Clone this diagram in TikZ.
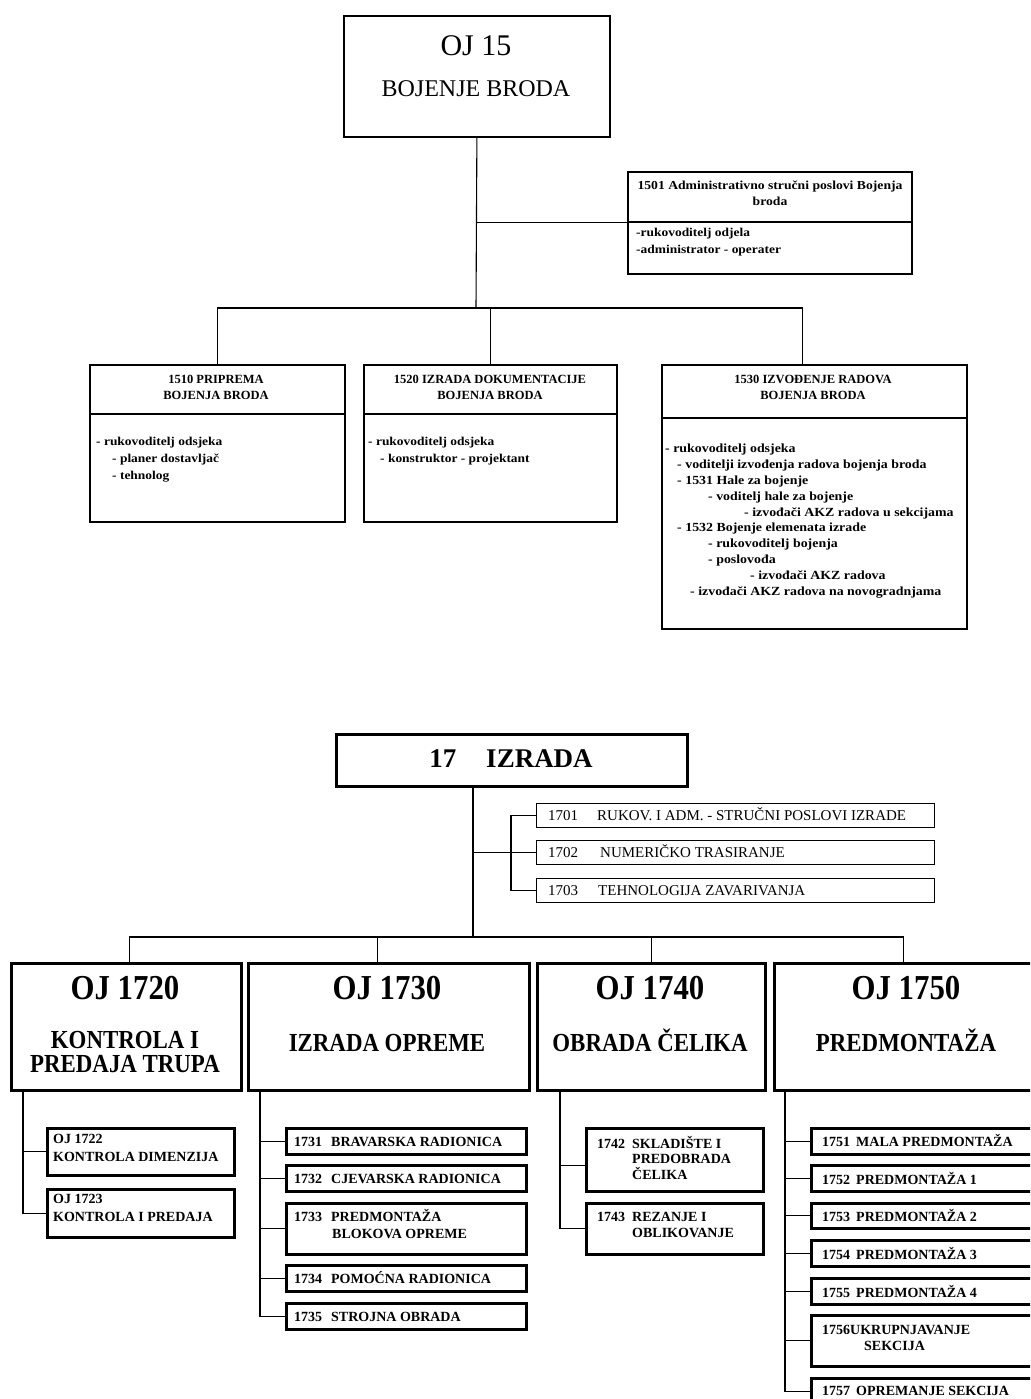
\documentclass[tikz,border=0pt]{standalone}
\usepackage{fontspec}
\setmainfont{Liberation Serif}
\newfontfamily\wideserif[FakeStretch=1.12]{Liberation Serif}
\newfontfamily\narrowserif[FakeStretch=0.88]{Liberation Serif}
\newcommand{\fsz}[2]{\fontsize{#1}{#2}\selectfont}
\begin{document}
\begin{tikzpicture}[x=1pt,y=-1pt,
  boxa/.style={draw, line width=1.8pt, inner sep=0pt, anchor=north west},
  boxb/.style={draw, line width=2.6pt, inner sep=0pt, anchor=north west},
  boxc/.style={draw, line width=1.4pt, inner sep=0pt, anchor=north west},
  wire/.style={line width=1.1pt},
  rule/.style={line width=1.8pt},
  ttl/.style={font=\bfseries\fsz{12.5}{16}, align=center, inner sep=0pt},
  lst/.style={font=\wideserif\bfseries\fsz{12}{17}, align=left, anchor=north west, inner sep=0pt},
  itm/.style={font=\fsz{15}{18}, anchor=base west, inner sep=0pt},
  sub/.style={font=\bfseries\fsz{14}{16}, anchor=base west, inner sep=0pt},
  ojn/.style={font=\narrowserif\bfseries\fsz{35}{35}, anchor=base, inner sep=0pt},
  ojt/.style={font=\narrowserif\bfseries\fsz{26}{23}, anchor=base, inner sep=0pt},
]
\clip (0,0) rectangle (1030,1399);
\fill[white] (0,0) rectangle (1030,1399);

% ---------------- OJ 15 : ship painting ----------------
\node[boxa, minimum width=266pt, minimum height=121pt] (oj15) at (343,15) {};
\node[font=\fsz{30}{30}, anchor=base, inner sep=0pt] (oj15a) at (476,56) {OJ 15};
\node[font=\fsz{24}{24}, anchor=base, inner sep=0pt] (oj15b) at (476,97) {BOJENJE BRODA};

% 1501
\node[boxa, minimum width=284pt, minimum height=102pt] (b1501) at (627,171) {};
\draw[rule] (627,222) -- (911,222);
\node[ttl, font=\wideserif\bfseries\fsz{12.2}{16}] (t1501) at (770,193) {1501 Administrativno stručni poslovi Bojenja\\broda};
\node[lst] (l1501) at (636,228) {-rukovoditelj odjela\\-administrator - operater};

% 1510
\node[boxa, minimum width=255pt, minimum height=157pt] (b1510) at (89,364) {};
\draw[rule] (89,414) -- (344,414);
\node[ttl] (t1510) at (216,387) {1510 PRIPREMA\\BOJENJA BRODA};
\node[lst] (l1510) at (96,437) {- rukovoditelj odsjeka\\\hspace*{16pt}- planer dostavljač\\\hspace*{16pt}- tehnolog};

% 1520
\node[boxa, minimum width=253pt, minimum height=157pt] (b1520) at (363,364) {};
\draw[rule] (363,414) -- (616,414);
\node[ttl] (t1520) at (490,387) {1520 IZRADA DOKUMENTACIJE\\BOJENJA BRODA};
\node[lst] (l1520) at (368,437) {- rukovoditelj odsjeka\\\hspace*{12pt}- konstruktor - projektant};

% 1530
\node[boxa, minimum width=305pt, minimum height=264pt] (b1530) at (661,364) {};
\draw[rule] (661,418) -- (966,418);
\node[ttl] (t1530) at (813,387) {1530 IZVOĐENJE RADOVA\\BOJENJA BRODA};
\node[lst, font=\wideserif\bfseries\fsz{12.4}{15.8}] (l1530) at (665,444) {- rukovoditelj odsjeka\\
\hspace*{12pt}- voditelji izvođenja radova bojenja broda\\
\hspace*{12pt}- 1531 Hale za bojenje\\
\hspace*{43pt}- voditelj hale za bojenje\\
\hspace*{79pt}- izvođači AKZ radova u sekcijama\\
\hspace*{12pt}- 1532 Bojenje elemenata izrade\\
\hspace*{43pt}- rukovoditelj bojenja\\
\hspace*{43pt}- poslovođa\\
\hspace*{85pt}- izvođači AKZ radova\\
\hspace*{25pt}- izvođači AKZ radova na novogradnjama};

% connectors of OJ 15
\coordinate (hub15) at (476,308);
\draw[wire] (oj15.south) -- (hub15);
\draw[wire] (oj15.south |- b1501.west) -- (b1501.west);
\draw[wire] (b1510.north) |- (hub15) -| ([xshift=-12pt]b1530.north);
\draw[wire] (b1520.north) -- (b1520.north |- hub15);

% ---------------- 17 : production ----------------
\node[boxb, minimum width=351pt, minimum height=52pt] (iz) at (335,733) {};
\node[font=\bfseries\fsz{27}{27}, anchor=base, inner sep=0pt] (izt) at (511,767) {17\hspace{30pt}IZRADA};

\node[boxc, minimum width=398pt, minimum height=24pt] (b1701) at (536,803) {};
\node[boxc, minimum width=398pt, minimum height=24pt] (b1702) at (536,840) {};
\node[boxc, minimum width=398pt, minimum height=24pt] (b1703) at (536,878) {};
\node[itm] (n1701a) at (548,820) {1701};
\node[itm] (n1701b) at (597,820) {RUKOV. I ADM. - STRUČNI POSLOVI IZRADE};
\node[itm] (n1702a) at (548,857) {1702};
\node[itm] (n1702b) at (600,857) {NUMERIČKO TRASIRANJE};
\node[itm] (n1703a) at (548,895) {1703};
\node[itm] (n1703b) at (598,895) {TEHNOLOGIJA ZAVARIVANJA};

\coordinate (hub17) at (473,937);
\coordinate (k17) at (511,852);
\draw[wire] (iz.south -| hub17) -- (hub17);
\draw[wire] (b1701.west) -| (k17) |- (b1703.west);
\draw[wire] (hub17 |- b1702.west) -- (b1702.west);

% OJ boxes
\node[boxb, minimum width=230pt, minimum height=127pt] (oj1720) at (10,962) {};
\node[boxb, minimum width=281pt, minimum height=127pt] (oj1730) at (247,962) {};
\node[boxb, minimum width=228pt, minimum height=127pt] (oj1740) at (536,962) {};
\node[boxb, minimum width=267pt, minimum height=127pt] (oj1750) at (773,962) {};

\node[ojn] (h1720) at (125,999) {OJ 1720};
\node[ojn] (h1730) at (387,999) {OJ 1730};
\node[ojn] (h1740) at (650,999) {OJ 1740};
\node[ojn] (h1750) at (906,999) {OJ 1750};
\node[ojt] (d1720a) at (125,1048) {KONTROLA I};
\node[ojt] (d1720b) at (125,1072) {PREDAJA TRUPA};
\node[ojt] (d1730) at (387,1051) {IZRADA OPREME};
\node[ojt] (d1740) at (650,1051) {OBRADA ČELIKA};
\node[ojt] (d1750) at (906,1051) {PREDMONTAŽA};

\draw[wire] ([xshift=3pt]oj1720.north) |- (hub17) -| ([xshift=-4pt]oj1750.north);
\draw[wire] ([xshift=-11pt]oj1730.north) -- ([xshift=-11pt]oj1730.north |- hub17);
\draw[wire] (oj1740.north) -- (oj1740.north |- hub17);

% OJ 1720 units
\node[boxb, minimum width=187pt, minimum height=47pt] (b1722) at (46,1127) {};
\node[boxb, minimum width=187pt, minimum height=48pt] (b1723) at (46,1188) {};
\node[sub] (n1722a) at (53,1143) {OJ 1722};
\node[sub] (n1722b) at (53,1161) {KONTROLA DIMENZIJA};
\node[sub] (n1723a) at (53,1203) {OJ 1723};
\node[sub] (n1723b) at (53,1221) {KONTROLA I PREDAJA};
\coordinate (s20) at (23,1089);
\draw[wire] (s20) |- (b1723.west);
\draw[wire] (s20 |- b1722.west) -- (b1722.west);

% OJ 1730 units
\node[boxb, minimum width=240pt, minimum height=26pt] (b1731) at (285,1127) {};
\node[boxb, minimum width=240pt, minimum height=26pt] (b1732) at (285,1164) {};
\node[boxb, minimum width=240pt, minimum height=51pt] (b1733) at (285,1202) {};
\node[boxb, minimum width=240pt, minimum height=26pt] (b1734) at (285,1264) {};
\node[boxb, minimum width=240pt, minimum height=26pt] (b1735) at (285,1302) {};
\node[sub] (n1731) at (294,1146) {1731\hspace{9pt}BRAVARSKA RADIONICA};
\node[sub] (n1732) at (294,1183) {1732\hspace{9pt}CJEVARSKA RADIONICA};
\node[sub] (n1733a) at (294,1221) {1733\hspace{9pt}PREDMONTAŽA};
\node[sub] (n1733b) at (332,1238) {BLOKOVA OPREME};
\node[sub] (n1734) at (294,1283) {1734\hspace{9pt}POMOĆNA RADIONICA};
\node[sub] (n1735) at (294,1321) {1735\hspace{9pt}STROJNA OBRADA};
\coordinate (s30) at (260,1089);
\draw[wire] (s30) |- (b1735.west);
\foreach \b in {b1731,b1732,b1733,b1734} \draw[wire] (s30 |- \b.west) -- (\b.west);

% OJ 1740 units
\node[boxb, minimum width=177pt, minimum height=63pt] (b1742) at (585,1127) {};
\node[boxb, minimum width=177pt, minimum height=51pt] (b1743) at (585,1202) {};
\node[sub] (n1742a) at (597,1148) {1742};
\node[sub] (n1742b) at (632,1148) {SKLADIŠTE I};
\node[sub] (n1742c) at (632,1163) {PREDOBRADA};
\node[sub] (n1742d) at (632,1179) {ČELIKA};
\node[sub] (n1743a) at (597,1221) {1743};
\node[sub] (n1743b) at (632,1221) {REZANJE I};
\node[sub] (n1743c) at (632,1237) {OBLIKOVANJE};
\coordinate (s40) at (560,1089);
\draw[wire] (s40) |- ([yshift=-6pt]b1742.west);
\draw[wire] (s40 |- b1743.west) -- (b1743.west);
\draw[wire] (s40) -- (s40 |- b1743.west);

% OJ 1750 units
\node[boxb, minimum width=240pt, minimum height=26pt] (b1751) at (810,1127) {};
\node[boxb, minimum width=240pt, minimum height=26pt] (b1752) at (810,1164) {};
\node[boxb, minimum width=240pt, minimum height=25pt] (b1753) at (810,1202) {};
\node[boxb, minimum width=240pt, minimum height=26pt] (b1754) at (810,1239) {};
\node[boxb, minimum width=240pt, minimum height=26pt] (b1755) at (810,1277) {};
\node[boxb, minimum width=240pt, minimum height=51pt] (b1756) at (810,1314) {};
\node[boxb, minimum width=240pt, minimum height=26pt] (b1757) at (810,1377) {};
\node[sub] (n1751) at (822,1146) {1751\hspace{6pt}MALA PREDMONTAŽA};
\node[sub] (n1752) at (822,1184) {1752\hspace{6pt}PREDMONTAŽA 1};
\node[sub] (n1753) at (822,1221) {1753\hspace{6pt}PREDMONTAŽA 2};
\node[sub] (n1754) at (822,1259) {1754\hspace{6pt}PREDMONTAŽA 3};
\node[sub] (n1755) at (822,1297) {1755\hspace{6pt}PREDMONTAŽA 4};
\node[sub] (n1756a) at (822,1334) {1756UKRUPNJAVANJE};
\node[sub] (n1756b) at (864,1350) {SEKCIJA};
\node[sub] (n1757) at (822,1395) {1757\hspace{6pt}OPREMANJE SEKCIJA};
\coordinate (s50) at (785,1089);
\draw[wire] (s50) |- (b1757.west);
\foreach \b in {b1751,b1752,b1753,b1754,b1755,b1756} \draw[wire] (s50 |- \b.west) -- (\b.west);
\end{tikzpicture}
\end{document}
